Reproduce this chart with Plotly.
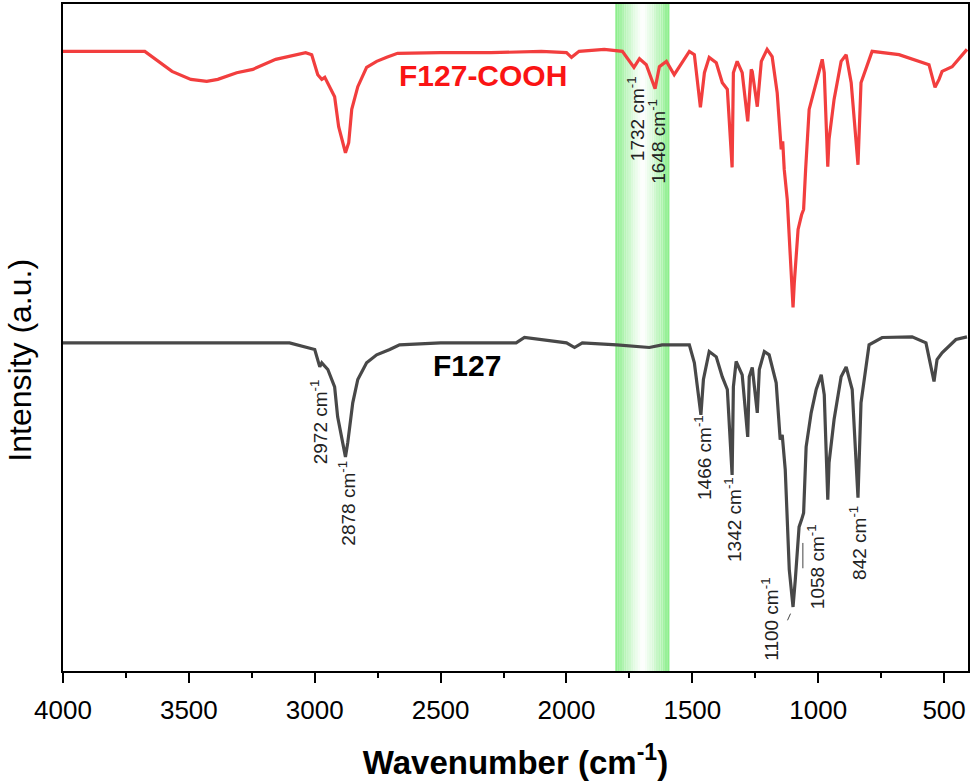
import plotly.graph_objects as go

# F127-COOH spectrum (red), wavenumber in cm-1, intensity in a.u.
cooh_wn = [4000, 3718, 3675, 3567, 3492, 3429, 3385, 3310, 3246, 3155, 3036, 3012,
           2988, 2972, 2960, 2921, 2905, 2878, 2865, 2853, 2829, 2794, 2754, 2714,
           2671, 2500, 2300, 2100, 2000, 1980, 1950, 1850, 1778, 1732, 1710, 1683,
           1648, 1631, 1603, 1572, 1552, 1512, 1492, 1468, 1452, 1433, 1405, 1381,
           1361, 1342, 1337, 1322, 1302, 1280, 1266, 1262, 1242, 1226, 1203, 1183,
           1163, 1152, 1147, 1141, 1135, 1123, 1100, 1095, 1080, 1066, 1058, 1050,
           1036, 1008, 984, 976, 962, 957, 937, 909, 889, 869, 842, 830, 786, 679,
           627, 560, 536, 520, 508, 468, 409]
cooh_int = [92.9, 93.0, 92.9, 89.9, 88.7, 88.4, 88.7, 89.7, 90.2, 91.7, 92.7, 92.4,
            89.4, 88.7, 89.0, 86.1, 81.6, 77.7, 79.2, 84.2, 87.6, 90.5, 91.4, 92.0,
            92.6, 92.7, 92.7, 92.9, 92.7, 92.0, 92.9, 93.2, 92.9, 90.5, 91.8, 90.9,
            87.3, 90.6, 91.4, 89.4, 90.6, 92.9, 92.4, 84.5, 89.7, 92.0, 91.2, 88.2,
            87.2, 75.5, 89.7, 91.4, 89.7, 82.4, 90.2, 89.9, 84.6, 91.4, 93.2, 92.1,
            86.7, 80.4, 78.2, 79.4, 75.2, 70.7, 54.5, 58.2, 66.2, 68.4, 69.2, 75.2,
            84.2, 88.2, 91.7, 89.7, 75.6, 79.7, 85.7, 91.4, 92.4, 88.2, 75.9, 88.2,
            92.9, 92.4, 91.7, 90.9, 87.5, 88.7, 89.9, 90.6, 93.2]

# F127 spectrum (dark grey)
f127_wn = [4000, 3500, 3100, 3000, 2980, 2972, 2948, 2921, 2909, 2878, 2869, 2849,
           2829, 2794, 2754, 2702, 2663, 2500, 2200, 2167, 2000, 1968, 1937, 1800,
           1671, 1620, 1512, 1492, 1466, 1456, 1433, 1405, 1381, 1361, 1342, 1337,
           1326, 1302, 1280, 1274, 1262, 1242, 1234, 1214, 1195, 1167, 1151, 1143,
           1131, 1115, 1100, 1091, 1076, 1066, 1058, 1048, 1028, 1008, 988, 976,
           962, 957, 937, 909, 889, 865, 842, 830, 798, 746, 627, 572, 540, 528,
           508, 453, 409]
f127_int = [49.2, 49.2, 49.2, 48.2, 45.6, 46.2, 45.2, 42.6, 38.1, 32.1, 34.2, 40.2,
            43.7, 46.2, 47.4, 48.2, 48.9, 49.2, 49.2, 50.0, 49.2, 48.5, 49.2, 48.9,
            48.5, 48.9, 48.9, 46.2, 38.4, 43.7, 47.9, 47.1, 44.1, 42.2, 29.4, 42.6,
            46.4, 44.4, 35.1, 44.1, 45.5, 38.7, 45.2, 47.9, 47.4, 43.2, 34.7, 35.4,
            30.2, 15.2, 9.6, 13.7, 21.6, 22.7, 23.7, 33.6, 38.7, 42.2, 44.4, 41.4,
            25.7, 31.2, 37.7, 44.1, 45.6, 42.2, 26.0, 40.2, 48.9, 50.0, 50.1, 49.2,
            43.4, 46.7, 47.7, 49.7, 50.1]

# peak labels
peak_text = ["2972", "2878", "1732", "1648", "1466", "1342", "1100", "1058", "842"]
peak_x = [2984, 2873, 1726, 1639, 1460, 1341, 1191, 1008, 842]
peak_y = [37.4, 25.2, 82.8, 79.4, 32.0, 22.7, 7.7, 15.6, 19.2]

band_lo, band_hi = 1591, 1806

fig = go.Figure()

# green highlighted band: green at the edges fading to white in the middle
n = 24
for i in range(n):
    x0 = band_lo + (band_hi - band_lo) * i / n
    x1 = band_lo + (band_hi - band_lo) * (i + 1) / n
    t = abs((i + 0.5) / n - 0.5) * 2  # 0 centre, 1 edges
    t = t ** 1.2
    r = int(255 - (255 - 135) * t)
    g = int(255 - (255 - 238) * t)
    b = int(255 - (255 - 135) * t)
    fig.add_shape(type="rect", xref="x", yref="paper", x0=x0, x1=x1, y0=0, y1=1,
                  fillcolor=f"rgb({r},{g},{b})", line=dict(width=0), layer="below")

fig.add_trace(go.Scatter(x=cooh_wn, y=cooh_int, mode="lines", name="F127-COOH",
                         line=dict(color="rgb(242,62,62)", width=3.2)))
fig.add_trace(go.Scatter(x=f127_wn, y=f127_int, mode="lines", name="F127",
                         line=dict(color="rgb(72,72,72)", width=3.2)))

fig.add_annotation(x=2330, y=89.3, text="<b>F127-COOH</b>", showarrow=False,
                   font=dict(size=30, color="rgb(250,20,20)"))
fig.add_annotation(x=2397, y=45.8, text="<b>F127</b>", showarrow=False,
                   font=dict(size=30, color="black"))

for t, x, y in zip(peak_text, peak_x, peak_y):
    fig.add_annotation(x=x, y=y, text=t + " cm<sup>-1</sup>", showarrow=False,
                       textangle=-90, font=dict(size=19, color="#222"))

# small leader lines
fig.add_shape(type="line", x0=1122, x1=1110, y0=7.6, y1=8.6,
              line=dict(color="#444", width=1))
fig.add_shape(type="line", x0=1061, x1=1061, y0=15.4, y1=19.2,
              line=dict(color="#444", width=1))

# y axis title
fig.add_annotation(xref="paper", yref="paper", x=-0.047, y=0.466,
                   xanchor="center", yanchor="middle",
                   text="Intensity (a.u.)", textangle=-90, showarrow=False,
                   font=dict(size=32, color="black"))

fig.update_layout(
    width=974, height=781,
    margin=dict(l=63, r=6, t=4, b=110),
    plot_bgcolor="white", paper_bgcolor="white",
    showlegend=False,
    font=dict(family="Liberation Sans, Arial, sans-serif", color="black"),
)
fig.update_xaxes(range=[4000, 405], showline=True, linecolor="black", linewidth=2,
                 mirror=True, ticks="outside", ticklen=10, tickwidth=2,
                 tickcolor="black", dtick=500, tick0=500, automargin=False,
                 minor=dict(ticks="outside", ticklen=5, tickwidth=2, dtick=250,
                            tickcolor="black"),
                 showgrid=False, zeroline=False,
                 tickfont=dict(size=26), ticklabelstandoff=5,
                 title=dict(text="<b>Wavenumber (cm<sup>-1</sup>)</b>",
                            font=dict(size=33), standoff=28))
fig.update_yaxes(range=[0, 100], showline=True, linecolor="black", linewidth=2,
                 mirror=True, ticks="", showticklabels=False, showgrid=False,
                 zeroline=False, automargin=False)

# drop the default page margin so the figure sits at the window's corner
fig.write_html("out.html", config={"displayModeBar": False},
               post_script="document.body.style.margin='0';")
